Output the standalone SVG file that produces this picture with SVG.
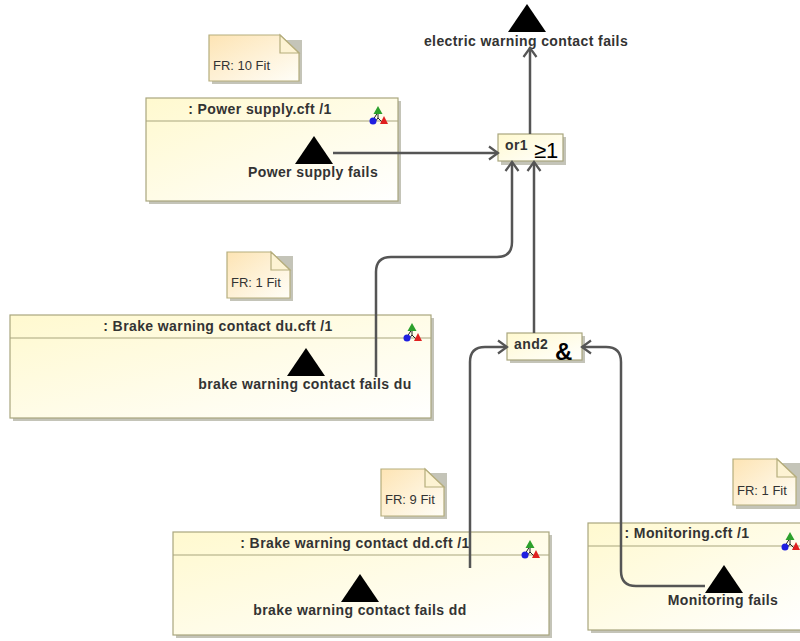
<svg xmlns="http://www.w3.org/2000/svg" width="800" height="641" viewBox="0 0 800 641">
<defs>
<linearGradient id="g" x1="0" y1="0" x2="1" y2="1"><stop offset="0" stop-color="#fff9cf"/><stop offset="1" stop-color="#ffffff"/></linearGradient>
<linearGradient id="n" x1="0" y1="0" x2="1" y2="1"><stop offset="0" stop-color="#fde4b4"/><stop offset="1" stop-color="#fffef8"/></linearGradient>
<g id="ico"><path d="M0,-6 L-5,2 M0,-4 L0,0 L-4,5 M0,0 L5,5" stroke="#222" stroke-width="1" fill="none"/><path d="M0,-12 L4.500,-4 L-4.500,-4Z" fill="#2ca02c"/><circle cx="-5" cy="3" r="3.500" fill="#1f1fe0"/><path d="M6,-2 L10,6 L2,6Z" fill="#e02020"/></g>
<marker id="a" markerUnits="userSpaceOnUse" markerWidth="16" markerHeight="16" refX="13" refY="8" orient="auto"><path d="M4,1.500 L13,8 L4,14.500" fill="none" stroke="#555" stroke-width="2.200"/></marker>
</defs>
<style>
text{font-family:"Liberation Sans",Arial,sans-serif;fill:#333}
.b{font-weight:bold;font-size:14px;letter-spacing:.4px}
.box{fill:url(#g);stroke:#a9a67e;stroke-width:1.200}
.sh{fill:#c4c4b8}
.sep{stroke:#a9a67e;stroke-width:1.200}
.note{fill:url(#n);stroke:#b5ad7c;stroke-width:1.200}
.fold{fill:#fdf3d3;stroke:#b5ad7c;stroke-width:1.200}
.fr{font-size:13px}
.tri{fill:#000}
.c{fill:none;stroke:#555;stroke-width:2.500;marker-end:url(#a)}
</style>
<rect width="800" height="641" fill="#fff"/>

<g id="note-power"><path class="sh" d="M212,40 H302 V84 H212Z"/><path class="note" d="M209,35 H280 L299,53 V81 H209Z"/><path class="fold" d="M280,35 V53 H299Z"/><text class="fr" x="213" y="70">FR: 10 Fit</text></g>
<g id="power"><rect class="sh" x="149" y="101" width="252" height="103"/><rect class="box" x="146" y="98" width="252" height="103"/><line class="sep" x1="146" y1="121" x2="398" y2="121"/><text class="b" x="260" y="114" text-anchor="middle">: Power supply.cft /1</text><use href="#ico" x="378" y="118"/><path class="tri" d="M314,136 L333,164 L295,164Z"/><text class="b" x="313" y="177" text-anchor="middle">Power supply fails</text></g>

<g id="top-event"><path class="tri" d="M527,4 L546,32 L508,32Z"/><text class="b" x="526" y="46" text-anchor="middle">electric warning contact fails</text></g>

<g id="or1"><rect class="sh" x="501" y="137" width="65" height="28"/><rect class="box" x="498" y="134" width="65" height="27"/><text class="b" x="505" y="150">or1</text><text x="534" y="158" font-size="22" style="fill:#000">≥1</text></g>

<g id="note-du"><path class="sh" d="M230,256 H293 V301 H230Z"/><path class="note" d="M227,252 H271 L290,270 V298 H227Z"/><path class="fold" d="M271,252 V270 H290Z"/><text class="fr" x="231" y="287">FR: 1 Fit</text></g>
<g id="du"><rect class="sh" x="13" y="318" width="421" height="103"/><rect class="box" x="10" y="315" width="421" height="103"/><line class="sep" x1="10" y1="338" x2="431" y2="338"/><text class="b" x="218" y="331" text-anchor="middle">: Brake warning contact du.cft /1</text><use href="#ico" x="412" y="335"/><path class="tri" d="M306,348 L325,376 L287,376Z"/><text class="b" x="305" y="389" text-anchor="middle">brake warning contact fails du</text></g>

<g id="and2"><rect class="sh" x="510" y="336" width="75" height="27"/><rect class="box" x="507" y="333" width="75" height="27"/><text class="b" x="514" y="349">and2</text><text x="555" y="360" font-size="24" font-weight="bold" style="fill:#000">&amp;</text></g>

<g id="note-dd"><path class="sh" d="M384,473 H447 V519 H384Z"/><path class="note" d="M381,469 H425 L444,487 V516 H381Z"/><path class="fold" d="M425,469 V487 H444Z"/><text class="fr" x="385" y="504">FR: 9 Fit</text></g>
<g id="dd"><rect class="sh" x="176" y="535" width="376" height="103"/><rect class="box" x="173" y="532" width="376" height="103"/><line class="sep" x1="173" y1="555" x2="549" y2="555"/><text class="b" x="355" y="548" text-anchor="middle">: Brake warning contact dd.cft /1</text><use href="#ico" x="530" y="552"/><path class="tri" d="M360,574 L379,602 L341,602Z"/><text class="b" x="360" y="615" text-anchor="middle">brake warning contact fails dd</text></g>

<g id="note-mon"><path class="sh" d="M736,463 H800 V509 H736Z"/><path class="note" d="M733,459 H777 L796,477 V505 H733Z"/><path class="fold" d="M777,459 V477 H796Z"/><text class="fr" x="737" y="495">FR: 1 Fit</text></g>
<g id="monitoring"><rect class="sh" x="591" y="526" width="212" height="107"/><rect class="box" x="588" y="523" width="215" height="107"/><line class="sep" x1="588" y1="546" x2="800" y2="546"/><text class="b" x="687" y="538" text-anchor="middle">: Monitoring.cft /1</text><use href="#ico" x="790" y="544"/><path class="tri" d="M724,565 L743,593 L705,593Z"/><text class="b" x="723" y="605" text-anchor="middle">Monitoring fails</text></g>

<g id="connectors">
<path class="c" d="M333,153 H498"/>
<path class="c" d="M530,134 V48"/>
<path class="c" d="M376,377 V272 Q376,257 391,257 H497 Q512,257 512,242 V162"/>
<path class="c" d="M534,333 V162"/>
<path class="c" d="M470,568 V362 Q470,347 485,347 H507"/>
<path class="c" d="M705,586 H636 Q621,586 621,571 V362 Q621,347 606,347 H582"/>
</g>
</svg>
